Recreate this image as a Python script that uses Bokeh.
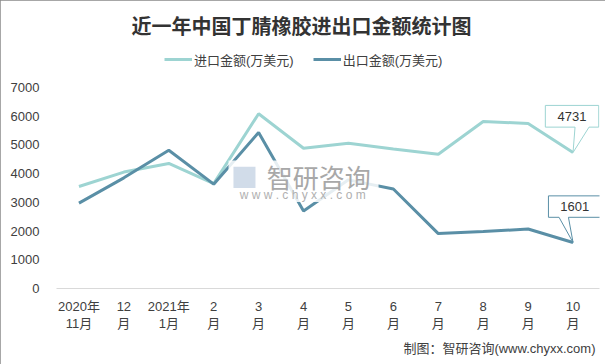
from bokeh.plotting import figure
from bokeh.models import Legend, LegendItem, FixedTicker, ColumnDataSource, Range1d, Title
from bokeh.embed import file_html
from bokeh.resources import INLINE
from bokeh.core.properties import value

# ---- data ----
months = ["2020年\n11月", "12\n月", "2021年\n1月", "2\n月", "3\n月", "4\n月",
          "5\n月", "6\n月", "7\n月", "8\n月", "9\n月", "10\n月"]
import_vals = [3550, 4050, 4350, 3650, 6080, 4880, 5050, 4850, 4670, 5810, 5740, 4731]
export_vals = [2970, 3850, 4810, 3630, 5430, 2700, 3780, 3460, 1910, 1980, 2070, 1601]
y_ticks = [0, 1000, 2000, 3000, 4000, 5000, 6000, 7000]
series_names = ["进口金额(万美元)", "出口金额(万美元)"]
title_text = "近一年中国丁腈橡胶进出口金额统计图"
source_text = "制图：智研咨询(www.chyxx.com)"

IMPORT_C = "#9dd4d2"
EXPORT_C = "#5a8fa6"
TXT = "#404040"
FONT = "Liberation Sans, Noto Sans CJK SC"
CJK = "Noto Sans CJK SC"

W, H = 605, 364
ML, MR, MT, MB = 56, 6, 44, 76
frame_w = W - ML - MR
frame_h = H - MT - MB          # 244 px
px_x = 539 / 12.0
x_end = -0.5 + frame_w / px_x
px_y = 203.7 / 7000.0          # 0..7000 spans ~204 px
y_top = frame_h / px_y         # room above 7000 holds the legend

p = figure(width=W, height=H, output_backend="svg", toolbar_location=None,
           x_range=Range1d(-0.5, x_end), y_range=Range1d(0, y_top),
           min_border_left=ML, min_border_right=MR, min_border_top=MT, min_border_bottom=MB)
p.outline_line_color = None
p.background_fill_color = "white"
p.border_fill_color = "white"
p.xgrid.grid_line_color = None
p.ygrid.grid_line_color = None
p.styles = {"outline": "2px solid #8a8a8a", "outline-offset": "-2px"}

xs = list(range(len(months)))
src = ColumnDataSource(dict(x=xs, imp=import_vals, exp=export_vals))
r1 = p.line("x", "imp", source=src, line_color=IMPORT_C, line_width=3)
r2 = p.line("x", "exp", source=src, line_color=EXPORT_C, line_width=3)

# watermark (with white haze over the lines)
p.quad(left=3.33, right=6.67, bottom=3010, top=4450, fill_color="white",
       fill_alpha=0.85, line_color=None)
p.text(x=[5.34], y=[3900], text=["智研咨询"], text_font=value(CJK),
       text_font_size="26px", text_color="#a8a8a8", text_align="center",
       text_baseline="middle")
p.text(x=[4.98], y=[3250], text=["w w w . c h y x x . c o m"], text_font=value(FONT),
       text_font_size="12px", text_color="#b0b0b0", text_align="center",
       text_baseline="middle")
p.quad(left=3.44, right=3.93, bottom=3500, top=4240, fill_color="#c5d3e3",
       fill_alpha=0.8, line_color=None)

# callouts for last values
def callout(i, v, L, R, T, B, b1, b2, color):
    xp = [i + L / px_x, i + R / px_x, i + R / px_x, i + b2 / px_x, i, i + b1 / px_x, i + L / px_x]
    yp = [v + T / px_y, v + T / px_y, v + B / px_y, v + B / px_y, v, v + B / px_y, v + B / px_y]
    p.patch(xp, yp, fill_color="white", line_color=color, line_width=1)
    p.text(x=[i + (L + R) / 2 / px_x], y=[v + (T + B) / 2 / px_y], text=[str(v)],
           text_font=value(FONT), text_font_size="13px", text_color="#333333",
           text_align="center", text_baseline="middle")

last = len(months) - 1
callout(last, import_vals[last], -27.7, 25.7, 47.7, 25.7, 2, 16, IMPORT_C)
callout(last, export_vals[last], -24.6, 28, 47.2, 25.5, -14, -4.6, EXPORT_C)

# axes
p.xaxis.ticker = FixedTicker(ticks=xs)
p.xaxis.major_label_overrides = {i: m for i, m in enumerate(months)}
p.xaxis.axis_line_color = "#d9d9d9"
p.xaxis.major_tick_line_color = None
p.xaxis.minor_tick_line_color = None
p.xaxis.major_tick_out = 0
p.xaxis.major_tick_in = 0
p.xaxis.major_label_text_font = FONT
p.xaxis.major_label_text_font_size = "13px"
p.xaxis.major_label_text_color = TXT
p.xaxis.major_label_text_line_height = 1.19
p.xaxis.major_label_standoff = 10

p.yaxis.ticker = FixedTicker(ticks=y_ticks)
p.yaxis.axis_line_color = None
p.yaxis.major_tick_line_color = None
p.yaxis.minor_tick_line_color = None
p.yaxis.major_tick_out = 0
p.yaxis.major_tick_in = 0
p.yaxis.major_label_text_font = FONT
p.yaxis.major_label_text_font_size = "13px"
p.yaxis.major_label_text_color = TXT
p.yaxis.major_label_standoff = 17

# legend (inside the frame's top strip)
legend = Legend(items=[LegendItem(label=series_names[0], renderers=[r1]),
                       LegendItem(label=series_names[1], renderers=[r2])],
                orientation="horizontal", location=(108, 219))
legend.background_fill_alpha = 0
legend.border_line_alpha = 0
legend.padding = 0
legend.margin = 0
legend.spacing = 19
legend.label_standoff = 2
legend.glyph_width = 28
legend.glyph_height = 20
legend.label_height = 20
legend.label_text_font = FONT
legend.label_text_font_size = "13px"
legend.label_text_color = TXT
p.add_layout(legend, "center")

# title
p.title.text = title_text
p.title.align = "left"
p.title.offset = 75
p.title.standoff = 16
p.title.text_font = CJK
p.title.text_font_size = "20px"
p.title.text_font_style = "bold"
p.title.text_color = "#333333"

# source note
p.add_layout(Title(text=source_text, align="right", offset=4, standoff=9,
                   text_font=FONT, text_font_size="13px", text_font_style="normal",
                   text_color=TXT), "below")

open("out.html", "w").write(file_html(p, INLINE))
